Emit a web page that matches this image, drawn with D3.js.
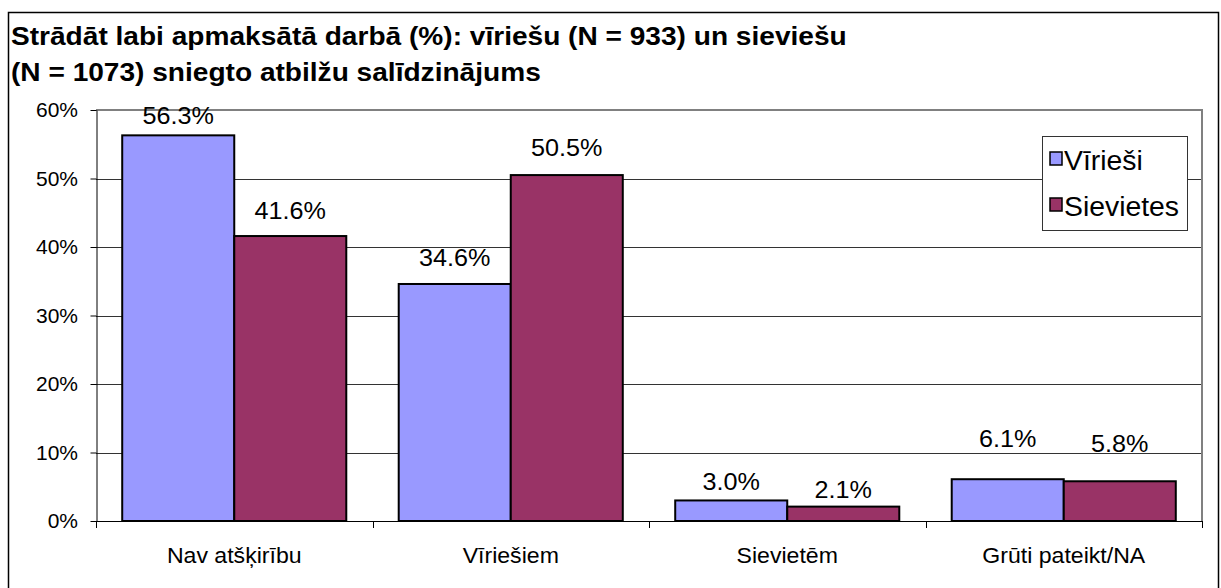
<!DOCTYPE html>
<html>
<head>
<meta charset="utf-8">
<script src="https://cdn.jsdelivr.net/npm/d3@7"></script>
<style>
  html, body { margin: 0; padding: 0; background: #fff; }
  svg { display: block; font-family: "Liberation Sans", Arial, sans-serif; }
</style>
</head>
<body>
<svg id="chart" width="1221" height="588"></svg>
<script>
const titleLines = ["Strādāt labi apmaksātā darbā (%): vīriešu (N = 933) un sieviešu",
                    "(N = 1073) sniegto atbilžu salīdzinājums"];
const categories = ["Nav atšķirību", "Vīriešiem", "Sievietēm", "Grūti pateikt/NA"];
const seriesNames = ["Vīrieši", "Sievietes"];
const viriesi = [56.3, 34.6, 3.0, 6.1];
const sievietes = [41.6, 50.5, 2.1, 5.8];
const yTicks = [0, 10, 20, 30, 40, 50, 60];
const colors = ["#9999FF", "#993366"];
// gap (px) between each data label baseline and its bar top, as placed in the reference
const labelGapViriesi = [11, 18, 10, 32];
const labelGapSievietes = [17, 19, 9, 29];

const svg = d3.select("#chart");
const SX = 1.05; // slight horizontal stretch of text as in the reference
const plot = { left: 96, right: 1202, top: 110, bottom: 521 };

svg.append("rect").attr("width", 1221).attr("height", 588).attr("fill", "#fff");
// outer frame
svg.append("rect").attr("x", 8.5).attr("y", 12.5).attr("width", 1210).attr("height", 600)
  .attr("fill", "none").attr("stroke", "#000").attr("stroke-width", 1.5);

function txt(g, x, y, s, size, anchor, weight, sx) {
  return g.append("text")
    .attr("transform", `translate(${x},${y}) scale(${sx || SX},1)`)
    .attr("text-anchor", anchor || "start")
    .attr("font-size", size)
    .attr("font-weight", weight || "normal")
    .attr("fill", "#000")
    .text(s);
}

// title
titleLines.forEach((l, i) => txt(svg, 11, 45 + i * 36, l, 26.5, "start", "bold", 1.06));

const y = d3.scaleLinear().domain([0, 60]).range([plot.bottom, plot.top]);
const x0 = d3.scaleBand().domain(categories).range([plot.left, plot.right]).padding(0);
const x1 = d3.scaleBand().domain(seriesNames).range([0, x0.bandwidth()]).paddingInner(0).paddingOuter(0.234);

// gridlines
svg.append("g").selectAll("line").data(yTicks.filter(d => d > 0)).join("line")
  .attr("x1", plot.left).attr("x2", plot.right)
  .attr("y1", d => Math.round(y(d)) + 0.5).attr("y2", d => Math.round(y(d)) + 0.5)
  .attr("stroke", "#333").attr("stroke-width", 1);

// plot border top/right (gray)
svg.append("path")
  .attr("d", `M${plot.left},${plot.top} H${plot.right} V${plot.bottom}`)
  .attr("fill", "none").attr("stroke", "#808080").attr("stroke-width", 2);

// bars
const gaps = [labelGapViriesi, labelGapSievietes];
const data = categories.map((c, i) => ({ c, i, vals: [viriesi[i], sievietes[i]] }));
const groups = svg.append("g").selectAll("g").data(data).join("g")
  .attr("transform", d => `translate(${x0(d.c)},0)`);
groups.selectAll("rect").data(d => d.vals.map((v, j) => ({ s: seriesNames[j], v, j }))).join("rect")
  .attr("x", d => x1(d.s)).attr("width", x1.bandwidth())
  .attr("y", d => y(d.v)).attr("height", d => y(0) - y(d.v))
  .attr("fill", d => colors[d.j]).attr("stroke", "#000").attr("stroke-width", 2);

// data labels
groups.each(function(d) {
  const g = d3.select(this);
  d.vals.forEach((v, j) => {
    txt(g, x1(seriesNames[j]) + x1.bandwidth() / 2, y(v) - gaps[j][d.i], v.toFixed(1) + "%", 24, "middle");
  });
});

// y axis
const yAxis = d3.axisLeft(y).tickValues(yTicks).tickFormat(d => d + "%").tickSize(6).tickSizeOuter(0);
const ya = svg.append("g").attr("transform", `translate(${plot.left + 0.5},0)`).call(yAxis);
ya.select(".domain").attr("stroke", "#000");
ya.selectAll(".tick line").attr("stroke", "#000");
ya.selectAll(".tick text").remove();
yTicks.forEach(t => txt(svg, 78, y(t) + 7, t + "%", 20, "end"));

// x axis
svg.append("line").attr("x1", plot.left).attr("x2", plot.right)
  .attr("y1", plot.bottom + 0.5).attr("y2", plot.bottom + 0.5).attr("stroke", "#000").attr("stroke-width", 1);
const bounds = categories.map(c => x0(c)).concat([plot.right]);
svg.append("g").selectAll("line").data(bounds).join("line")
  .attr("x1", d => Math.round(d) + 0.5).attr("x2", d => Math.round(d) + 0.5)
  .attr("y1", plot.bottom).attr("y2", plot.bottom + 7).attr("stroke", "#000");
categories.forEach(c => txt(svg, x0(c) + x0.bandwidth() / 2, 563, c, 22, "middle"));

// legend
const lg = svg.append("g");
lg.append("rect").attr("x", 1042.5).attr("y", 136.5).attr("width", 145).attr("height", 94)
  .attr("fill", "#fff").attr("stroke", "#333").attr("stroke-width", 1);
seriesNames.forEach((s, i) => {
  lg.append("rect").attr("x", 1050).attr("y", 152 + i * 46).attr("width", 12).attr("height", 13)
    .attr("fill", colors[i]).attr("stroke", "#000").attr("stroke-width", 1.5);
  txt(lg, 1064, 170 + i * 46, s, 27, "start");
});
</script>
</body>
</html>
